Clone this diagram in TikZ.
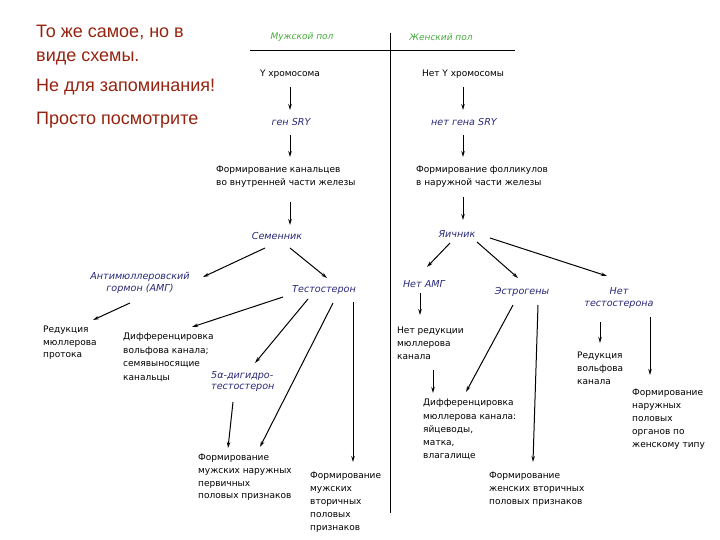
\documentclass[tikz,border=0pt]{standalone}
\usepackage{fontspec}
\setmainfont{DejaVu Sans}
\newfontfamily\titlefont{Liberation Sans}
\usetikzlibrary{arrows.meta}
\definecolor{titlered}{RGB}{150,35,15}
\definecolor{hormblue}{RGB}{40,40,120}
\definecolor{headgreen}{RGB}{70,170,60}
\begin{document}
\begin{tikzpicture}[x=1pt,y=-1pt,
  ttl/.style={inner sep=0pt, anchor=base west, text=titlered, font=\titlefont\fontsize{18}{20}\selectfont},
  txt/.style={inner sep=0pt, anchor=north west, align=left, font=\fontsize{9}{13}\selectfont},
  lbl/.style={inner sep=0pt, font=\fontsize{9}{13}\selectfont},
  hrm/.style={inner sep=0pt, align=center, text=hormblue, font=\fontsize{9.6}{12.5}\selectfont\itshape},
  hdr/.style={inner sep=0pt, text=headgreen, font=\fontsize{9}{12}\selectfont\itshape},
  arr/.style={line width=1pt, -{Stealth[length=6pt,width=3.5pt]}},
  rule/.style={line width=0.8pt}
]
\useasboundingbox (0,0) rectangle (720,540);

% title
\node[ttl] (t1) at (36,38) {То же самое, но в};
\node[ttl] (t2) at (36,62) {виде схемы.};
\node[ttl] (t3) at (36,92) {Не для запоминания!};
\node[ttl] (t4) at (36,125) {Просто посмотрите};

% header
\node[hdr] (hm) at (302,37) {Мужской пол};
\node[hdr] (hf) at (441,37) {Женский пол};
\coordinate (hl) at (250,50);
\coordinate (hr) at (515,50);
\coordinate (vt) at (390,33);
\coordinate (vb) at (390,513);
\draw[rule] (hl) -- (hr);
\draw[rule] (vt) -- (vb);

% male column
\node[lbl] (yx) at (290,74) {Y хромосома};
\node[hrm] (gen) at (291,122) {ген SRY};
\node[txt] (kan) at (216,166) {Формирование канальцев\\во внутренней части железы};
\node[hrm] (sem) at (277,236) {Семенник};
\node[hrm] (amg) at (140,283) {Антимюллеровский\\гормон (АМГ)};
\node[txt, font=\fontsize{9}{12.5}\selectfont] (red) at (43,326) {Редукция\\мюллерова\\протока};
\node[hrm] (tes) at (324,290) {Тестостерон};
\node[txt, font=\fontsize{9}{13.5}\selectfont] (dif) at (123,333) {Дифференцировка\\вольфова канала;\\семявыносящие\\канальцы};
\node[hrm, align=left, anchor=north west, font=\fontsize{9.6}{11}\selectfont\itshape] (dht) at (211,371) {5α-дигидро-\\тестостерон};
\node[txt, font=\fontsize{9}{12.7}\selectfont] (fmn) at (198,454) {Формирование\\мужских наружных\\первичных\\половых признаков};
\node[txt] (fmv) at (310,472) {Формирование\\мужских\\вторичных\\половых\\признаков};

% female column
\node[lbl] (noy) at (463,74) {Нет Y хромосомы};
\node[hrm] (nos) at (464,122) {нет гена SRY};
\node[txt] (fol) at (416,166) {Формирование фолликулов\\в наружной части железы};
\node[hrm] (yai) at (457,234) {Яичник};
\node[hrm] (nam) at (424,284) {Нет АМГ};
\node[hrm] (est) at (522,292) {Эстрогены};
\node[hrm] (nte) at (619,298) {Нет\\тестостерона};
\node[txt] (nre) at (397,327) {Нет редукции\\мюллерова\\канала};
\node[txt, font=\fontsize{9}{13.3}\selectfont] (dfm) at (423,399) {Дифференцировка\\мюллерова канала:\\яйцеводы,\\матка,\\влагалище};
\node[txt] (rew) at (577,352) {Редукция\\вольфова\\канала};
\node[txt] (fna) at (632,389) {Формирование\\наружных\\половых\\органов по\\женскому типу};
\node[txt] (fzv) at (489,472) {Формирование\\женских вторичных\\половых признаков};

% male arrows
\draw[arr] ([shift={(0,13)}]yx.center) -- ([shift={(-1,-12)}]gen.center);
\draw[arr] ([shift={(-1,13)}]gen.center) -- ([shift={(74,-9)}]kan.north west);
\draw[arr] ([shift={(74,36)}]kan.north west) -- ([shift={(13,-11)}]sem.center);
\draw[arr] ([shift={(-12,12)}]sem.center) -- ([shift={(63,-6)}]amg.center);
\draw[arr] ([shift={(13,12)}]sem.center) -- ([shift={(3,-12)}]tes.center);
\draw[arr] ([shift={(-10,20)}]amg.center) -- ([shift={(50,-6)}]red.north west);
\draw[arr] ([shift={(-41,7)}]tes.center) -- ([shift={(69,-6)}]dif.north west);
\draw[arr] ([shift={(-16,9)}]tes.center) -- ([shift={(44,-8)}]dht.north west);
\draw[arr] ([shift={(9,13)}]tes.center) -- ([shift={(62,-7)}]fmn.north west);
\draw[arr] ([shift={(29,12)}]tes.center) -- ([shift={(43,-10)}]fmv.north west);
\draw[arr] ([shift={(22,31)}]dht.north west) -- ([shift={(30,-6)}]fmn.north west);

% female arrows
\draw[arr] ([shift={(0,13)}]noy.center) -- ([shift={(-1,-12)}]nos.center);
\draw[arr] ([shift={(-1,13)}]nos.center) -- ([shift={(47,-9)}]fol.north west);
\draw[arr] ([shift={(47,31)}]fol.north west) -- ([shift={(6,-14)}]yai.center);
\draw[arr] ([shift={(-7,9)}]yai.center) -- ([shift={(3,-17)}]nam.center);
\draw[arr] ([shift={(20,8)}]yai.center) -- ([shift={(-4,-14)}]est.center);
\draw[arr] ([shift={(33,4)}]yai.center) -- ([shift={(-12,-22)}]nte.center);
\draw[arr] ([shift={(-4,9)}]nam.center) -- ([shift={(23,-12)}]nre.north west);
\draw[arr] ([shift={(36,43)}]nre.north west) -- ([shift={(10,-6)}]dfm.north west);
\draw[arr] ([shift={(-9,13)}]est.center) -- ([shift={(43,-7)}]dfm.north west);
\draw[arr] ([shift={(16,13)}]est.center) -- ([shift={(44,-10)}]fzv.north west);
\draw[arr] ([shift={(-19,24)}]nte.center) -- ([shift={(23,-9)}]rew.north west);
\draw[arr] ([shift={(31,19)}]nte.center) -- ([shift={(18,-14)}]fna.north west);
\end{tikzpicture}
\end{document}
